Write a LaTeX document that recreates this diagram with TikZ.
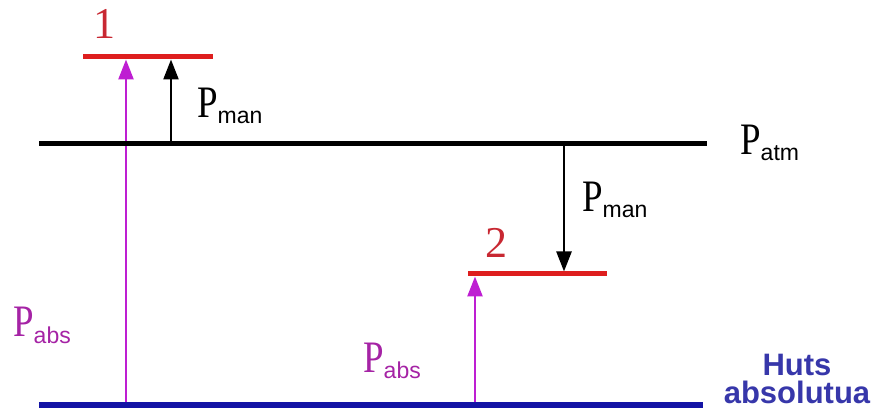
\documentclass[tikz,border=0pt]{standalone}
\usepackage{fontspec}
\setmainfont{Liberation Serif}
\setsansfont{Liberation Sans}
\newfontfamily\tnrfont{Liberation Serif}
\newfontfamily\arialfont{Liberation Sans}
\usepackage{graphicx}
\usepackage{tikz}
\usetikzlibrary{arrows.meta,calc}

\definecolor{lvlred}{RGB}{222,30,30}
\definecolor{numred}{RGB}{200,40,50}
\definecolor{absviolet}{RGB}{190,30,210}
\definecolor{abstext}{RGB}{165,35,165}
\definecolor{vacblue}{RGB}{20,20,165}
\definecolor{vactext}{RGB}{55,55,170}

% P with a sans subscript
\newcommand{\presslbl}[1]{{\tnrfont\fontsize{45}{45}\selectfont\scalebox{0.82}[1]{P}}%
  \raisebox{-6pt}{\arialfont\fontsize{23}{23}\selectfont #1}}

\begin{document}
\begin{tikzpicture}[x=1pt, y=-1pt,
  level/.style  ={line width=5pt},
  redlvl/.style ={level, lvlred},
  atmlvl/.style ={level, black},
  vaclvl/.style ={line width=6pt, vacblue},
  manarr/.style ={-{Triangle[length=20pt,width=15pt]}, line width=2.4pt,
                  black, shorten >=2.5pt, shorten <=2.5pt},
  absarr/.style ={-{Triangle[length=20pt,width=15pt]}, line width=2.6pt,
                  absviolet, shorten >=2.5pt, shorten <=3pt},
  plabel/.style ={inner sep=0pt, anchor=base west},
  numlbl/.style ={inner sep=0pt, anchor=base, numred,
                  font=\tnrfont\fontsize{44}{44}\selectfont},
]
\useasboundingbox (0,0) rectangle (880,419);

% === Level end points ===
\coordinate (one w) at (83,57);
\coordinate (one e) at (213,57);
\coordinate (atm w) at (39,144);
\coordinate (atm e) at (707,144);
\coordinate (two w) at (468,274);
\coordinate (two e) at (607,274);
\coordinate (vac w) at (39,405);
\coordinate (vac e) at (703,405);

% === Arrow feet ===
\coordinate (man1 foot) at (171,144);
\coordinate (man2 foot) at (564,144);
\coordinate (abs1 foot) at (126,405);
\coordinate (abs2 foot) at (475,405);

% === Pressure arrows ===
\draw[absarr] (abs1 foot) -- (abs1 foot |- one w);
\draw[absarr] (abs2 foot) -- (abs2 foot |- two w);
\draw[manarr] (man1 foot) -- (man1 foot |- one w);
\draw[manarr] (man2 foot) -- (man2 foot |- two w);

% === Levels ===
\draw[redlvl] (one w) -- (one e);
\draw[redlvl] (two w) -- (two e);
\draw[atmlvl] (atm w) -- (atm e);
\draw[vaclvl] (vac w) -- (vac e);

% === Labels ===
\node[numlbl] (n1) at (104,39) {1};
\node[numlbl] (n2) at (496,258) {2};
\node[plabel] (man1) at (197,118) {\presslbl{man}};
\node[plabel] (man2) at (582,212) {\presslbl{man}};
\node[plabel] (patm) at (740,155) {\presslbl{atm}};
\node[plabel, abstext] (abs1) at (13,337) {\presslbl{abs}};
\node[plabel, abstext] (abs2) at (363,372) {\presslbl{abs}};
\node[inner sep=0pt, align=center, vactext,
      font=\arialfont\bfseries\fontsize{31}{28}\selectfont] (vac)
  at (797,379) {Huts\\absolutua};

\end{tikzpicture}
\end{document}
